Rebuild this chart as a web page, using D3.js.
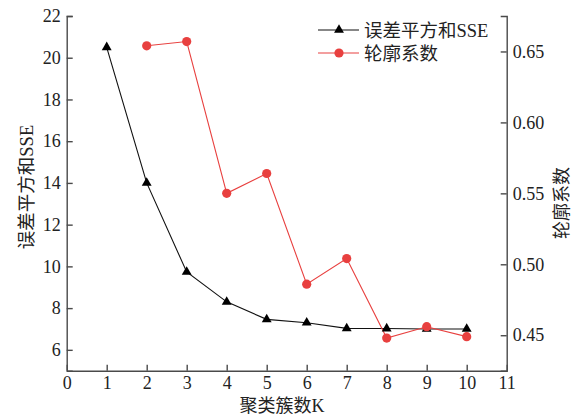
<!DOCTYPE html>
<html>
<head>
<meta charset="utf-8">
<script src="https://cdn.jsdelivr.net/npm/d3@7"></script>
<style>
  html, body { margin: 0; padding: 0; background: #fff; }
  svg { display: block; }
  text { font-family: "Liberation Serif", "Times New Roman", "Noto Sans CJK SC", serif; fill: #222; }
</style>
</head>
<body>
<svg id="chart" width="576" height="416"></svg>
<script>
// Cluster count K
const kValues = [1, 2, 3, 4, 5, 6, 7, 8, 9, 10];
// Sum of squared errors for each K
const sseValues = [20.5, 14.0, 9.73, 8.3, 7.46, 7.3, 7.03, 7.02, 7.0, 7.0];
// Silhouette coefficient for K = 2..10
const silK = [2, 3, 4, 5, 6, 7, 8, 9, 10];
const silValues = [0.654, 0.657, 0.550, 0.564, 0.486, 0.504, 0.448, 0.456, 0.449];

const xTicks = [0, 1, 2, 3, 4, 5, 6, 7, 8, 9, 10, 11];
const yLeftTicks = [6, 8, 10, 12, 14, 16, 18, 20, 22];
const yRightTicks = [0.45, 0.50, 0.55, 0.60, 0.65];

const seriesNames = ["误差平方和SSE", "轮廓系数"];
const xTitle = "聚类簇数K";
const yLeftTitle = "误差平方和SSE";
const yRightTitle = "轮廓系数";

const plotLeft = 66.7, plotRight = 506.7, plotTop = 16, plotBottom = 370.7;
const axisColor = "#4a4a4a";
const red = "#e8403f";

const svg = d3.select("#chart");

const x = d3.scaleLinear().domain([0, 11]).range([plotLeft, plotRight]);
const yL = d3.scaleLinear().domain([5, 22]).range([plotBottom, plotTop]);
const yR = d3.scaleLinear().domain([0.425, 0.675]).range([plotBottom, plotTop]);

function styleAxis(g) {
  g.selectAll("path.domain").attr("stroke", axisColor).attr("stroke-width", 1.4);
  g.selectAll(".tick line").attr("stroke", axisColor).attr("stroke-width", 1.4);
  g.selectAll(".tick text").attr("font-size", 18).attr("fill", "#222")
    .style("font-family", '"Liberation Serif", "Times New Roman", serif');
}

// Bottom axis
svg.append("g")
  .attr("transform", `translate(0,${plotBottom})`)
  .call(d3.axisBottom(x).tickValues(xTicks).tickFormat(d3.format("d"))
    .tickSizeInner(-6).tickSizeOuter(0).tickPadding(6))
  .call(styleAxis);

// Left axis
svg.append("g")
  .attr("transform", `translate(${plotLeft},0)`)
  .call(d3.axisLeft(yL).tickValues(yLeftTicks).tickFormat(d3.format("d"))
    .tickSizeInner(-6).tickSizeOuter(-6).tickPadding(6))
  .call(styleAxis);

// Right axis
svg.append("g")
  .attr("transform", `translate(${plotRight},0)`)
  .call(d3.axisRight(yR).tickValues(yRightTicks).tickFormat(d3.format(".2f"))
    .tickSizeInner(-6).tickSizeOuter(-6).tickPadding(6))
  .call(styleAxis);

// SSE series
const sseData = kValues.map((k, i) => ({ k, v: sseValues[i] }));
svg.append("path")
  .datum(sseData)
  .attr("fill", "none")
  .attr("stroke", "#111")
  .attr("stroke-width", 1.1)
  .attr("d", d3.line().x(d => x(d.k)).y(d => yL(d.v)));

const tri = d3.symbol().type(d3.symbolTriangle).size(42);

// Silhouette series
const silData = silK.map((k, i) => ({ k, v: silValues[i] }));
svg.append("path")
  .datum(silData)
  .attr("fill", "none")
  .attr("stroke", red)
  .attr("stroke-width", 1.1)
  .attr("d", d3.line().x(d => x(d.k)).y(d => yR(d.v)));

svg.append("g").selectAll("path")
  .data(sseData)
  .join("path")
  .attr("d", tri)
  .attr("transform", d => `translate(${x(d.k)},${yL(d.v)})`)
  .attr("fill", "#000");

svg.append("g").selectAll("circle")
  .data(silData)
  .join("circle")
  .attr("cx", d => x(d.k))
  .attr("cy", d => yR(d.v))
  .attr("r", 4.6)
  .attr("fill", red);

// Legend
const legend = svg.append("g");
const legendRows = [
  { name: seriesNames[0], y: 30, color: "#111", marker: "tri" },
  { name: seriesNames[1], y: 53, color: red, marker: "circle" }
];
legendRows.forEach(r => {
  legend.append("line")
    .attr("x1", 318).attr("x2", 359).attr("y1", r.y).attr("y2", r.y)
    .attr("stroke", r.color)
    .attr("stroke-width", r.marker === "circle" ? 1.8 : 1.2)
    .attr("stroke-opacity", r.marker === "circle" ? 0.5 : 1);
  if (r.marker === "tri") {
    legend.append("path").attr("d", tri)
      .attr("transform", `translate(339,${r.y})`).attr("fill", "#000");
  } else {
    legend.append("circle").attr("cx", 339).attr("cy", r.y).attr("r", 4.6).attr("fill", red);
  }
  legend.append("text")
    .attr("x", 364).attr("y", r.y).attr("dy", "0.36em")
    .attr("font-size", 18.5)
    .text(r.name);
});

// Axis titles
svg.append("text")
  .attr("x", 282).attr("y", 406).attr("dy", "0.36em")
  .attr("text-anchor", "middle").attr("font-size", 18)
  .text(xTitle);

svg.append("text")
  .attr("transform", `translate(26,187) rotate(-90)`)
  .attr("dy", "0.36em")
  .attr("text-anchor", "middle").attr("font-size", 18.5)
  .text(yLeftTitle);

svg.append("text")
  .attr("transform", `translate(562,203) rotate(-90)`)
  .attr("dy", "0.36em")
  .attr("text-anchor", "middle").attr("font-size", 18)
  .text(yRightTitle);
</script>
</body>
</html>
